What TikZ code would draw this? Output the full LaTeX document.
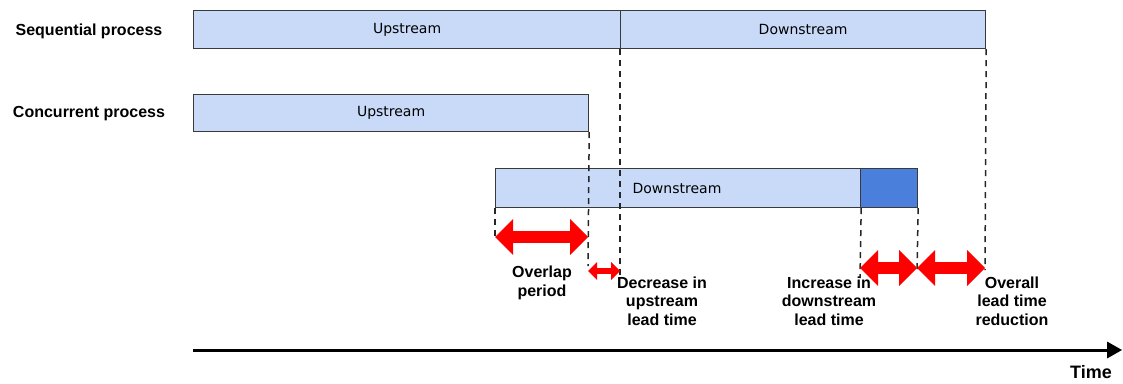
\documentclass[tikz,border=0pt]{standalone}
\usepackage{fontspec}
\setmainfont{Liberation Sans}
\newfontfamily\boxfont{DejaVu Sans}
\usetikzlibrary{arrows.meta}

\definecolor{phaseblue}{HTML}{C9DAF8}
\definecolor{extrablue}{HTML}{4A80DB}
\definecolor{framegray}{HTML}{3A3A3A}

\tikzset{
  phase/.style={draw=framegray, fill=phaseblue, line width=1.2pt, anchor=north west,
                inner sep=0pt, minimum height=38pt, font=\boxfont\fontsize{14}{15}\selectfont},
  rowlabel/.style={font=\bfseries\fontsize{16}{18}\selectfont},
  note/.style={align=center, font=\bfseries\fontsize{16}{18.5}\selectfont},
  guide/.style={draw=black!85, line width=1.5pt, dash pattern=on 6pt off 5pt},
  bigspan/.style={draw=red, line width=12pt,
                  {Triangle[length=18pt,width=36pt,line width=0pt]}-{Triangle[length=18pt,width=36pt,line width=0pt]}},
  smallspan/.style={draw=red, line width=6pt,
                  {Triangle[length=9pt,width=18pt,line width=0pt]}-{Triangle[length=9pt,width=18pt,line width=0pt]}},
}

\begin{document}
\begin{tikzpicture}[x=1pt,y=-1pt]
\useasboundingbox (0,0) rectangle (1123,383);

% process rows
\node[rowlabel] (seqlbl) at (89,31) {Sequential process};
\node[rowlabel] (conclbl) at (89,114) {Concurrent process};

\node[phase, minimum width=427pt] (sequp) at (193,10) {Upstream};
\node[phase, minimum width=365pt] (seqdown) at (620,10) {Downstream};
\node[phase, minimum width=395pt, minimum height=37pt] (concup) at (193,94) {Upstream};
\node[phase, minimum width=365pt, minimum height=39pt] (concdown) at (495,168) {};
\node[phase, fill=extrablue, minimum width=57pt, minimum height=39pt] (extra) at (860,168) {};
\node[font=\boxfont\fontsize{14}{15}\selectfont] (concdownlbl) at (677,188) {Downstream};

% guide lines
\coordinate (g1) at (495,236);
\coordinate (g2) at (588,266);
\coordinate (g3) at (620,280);
\coordinate (g4) at (860,278);
\coordinate (g5) at (917,270);
\coordinate (g6) at (985,270);
\draw[guide] (concdown.south west) -- (g1);
\draw[guide] (concup.south east) -- (g2);
\draw[guide] (seqdown.south west) -- (g3);
\draw[guide] (concdown.south east) -- (g4);
\draw[guide] (extra.south east) -- (g5);
\draw[guide] (seqdown.south east) -- (g6);

% spans
\coordinate (o1) at (495,237);
\coordinate (o2) at (588,237);
\coordinate (u1) at (588,271);
\coordinate (u2) at (620,271);
\coordinate (i1) at (860,268);
\coordinate (i2) at (917,268);
\coordinate (r1) at (985,268);
\draw[bigspan] (o1) -- (o2);
\draw[smallspan] (u1) -- (u2);
\draw[bigspan] (i1) -- (i2);
\draw[bigspan] (i2) -- (r1);

\node[note] (ovlbl) at (542,283) {Overlap\\period};
\node[note] (declbl) at (662,301) {Decrease in\\upstream\\lead time};
\node[note] (inclbl) at (829,301) {Increase in\\downstream\\lead time};
\node[note] (redlbl) at (1012,301) {Overall\\lead time\\reduction};

% time axis
\coordinate (t0) at (193,350);
\coordinate (t1) at (1122,350);
\draw[line width=3pt, -{Triangle[length=15pt,width=17pt,line width=0pt]}] (t0) -- (t1);
\node[font=\bfseries\fontsize{18}{19}\selectfont] (timelbl) at (1091,372) {Time};
\end{tikzpicture}
\end{document}
